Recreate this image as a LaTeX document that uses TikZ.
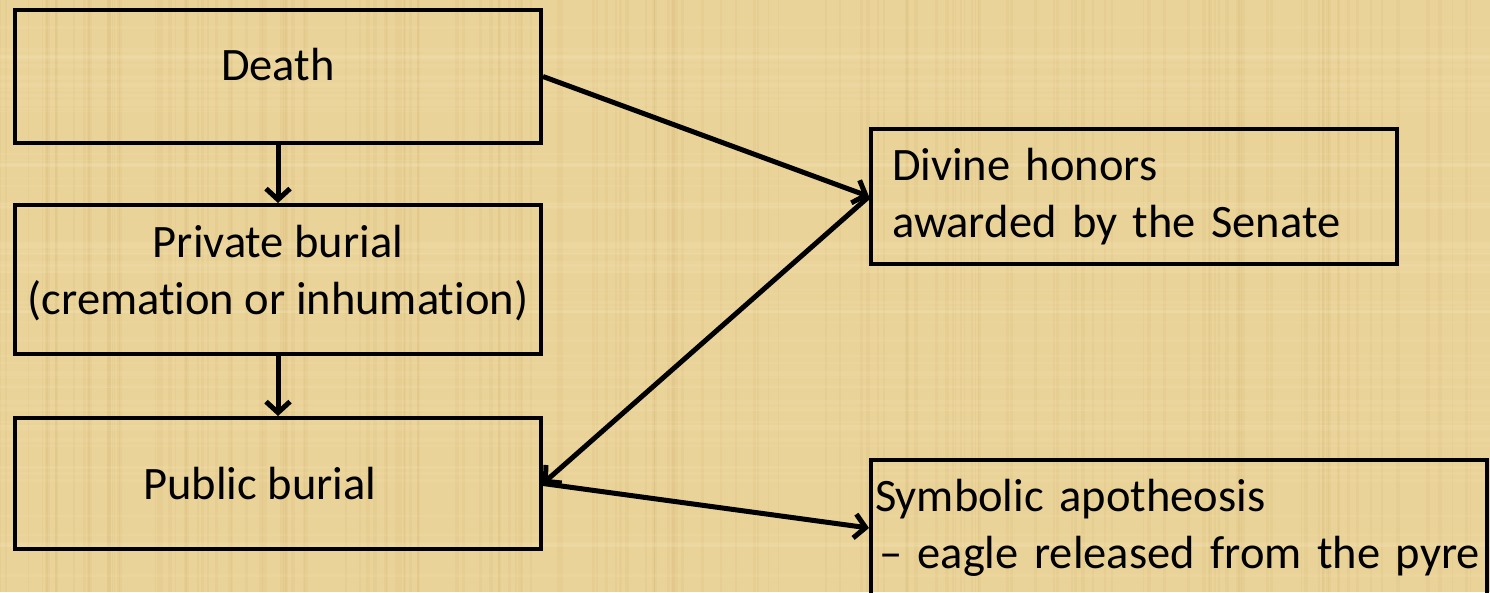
\documentclass[tikz,border=0pt]{standalone}
\usepackage{fontspec}
\setmainfont{Carlito}[Ligatures=NoCommon]
\usetikzlibrary{arrows.meta}
\definecolor{papyrus}{RGB}{234,211,152}
\definecolor{papyrusdark}{RGB}{196,160,90}
\definecolor{papyruslight}{RGB}{246,230,185}
\tikzset{
  box/.style={draw=black, line width=4pt, minimum width=526pt, inner ysep=0pt,
    font=\fontsize{46.5}{57}\selectfont},
  conn/.style={line width=5pt, -{Straight Barb[length=11pt,width=24pt]}},
}
\begin{document}
\begin{tikzpicture}[x=1pt,y=-1pt]
\useasboundingbox (0,0) rectangle (1490,592);
\clip (0,0) rectangle (1490,592);
\fill[papyrus] (0,0) rectangle (1490,592);
% faint papyrus texture
\pgfmathsetseed{7}
\foreach \i in {1,...,160}{
  \pgfmathsetmacro{\xx}{rnd*1490}
  \pgfmathsetmacro{\ww}{1+rnd*3}
  \draw[papyrusdark, opacity=0.10, line width=\ww pt] (\xx,0) -- (\xx,592);
}
\foreach \i in {1,...,80}{
  \pgfmathsetmacro{\yy}{rnd*592}
  \pgfmathsetmacro{\ww}{1+rnd*3}
  \draw[papyruslight, opacity=0.15, line width=\ww pt] (0,\yy) -- (1490,\yy);
}
\node[box, minimum height=133pt] (death) at (278,76.5)
  {\raisebox{12pt}[\height][\depth]{Death}};
\node[box, minimum height=149pt, align=center] (priv) at (278,279.5)
  {\raisebox{5pt}[\height][\depth]{\begin{tabular}{@{}c@{}}Private burial\\(cremation or inhumation)\end{tabular}}};
\node[box, minimum height=131pt] (pub) at (278,483.5)
  {\hspace*{-36pt}Public burial};
\node[box, minimum height=135pt, inner xsep=21pt, text width=484pt, align=left] (div) at (1134,196.5)
  {Divine honors\\awarded by the Senate};
\node[box, minimum width=616pt, minimum height=136pt, inner xsep=4pt, text width=608pt, align=left] (sym) at (1179,528)
  {Symbolic apotheosis\\\hspace*{4pt}– eagle released from the pyre};
\draw[conn] (death) -- (priv);
\draw[conn] (priv) -- (pub);
\draw[conn] (death.east) -- (div.west);
\draw[conn] (div.west) -- (pub.east);
\draw[conn] (pub.east) -- (sym.west);
\end{tikzpicture}
\end{document}
